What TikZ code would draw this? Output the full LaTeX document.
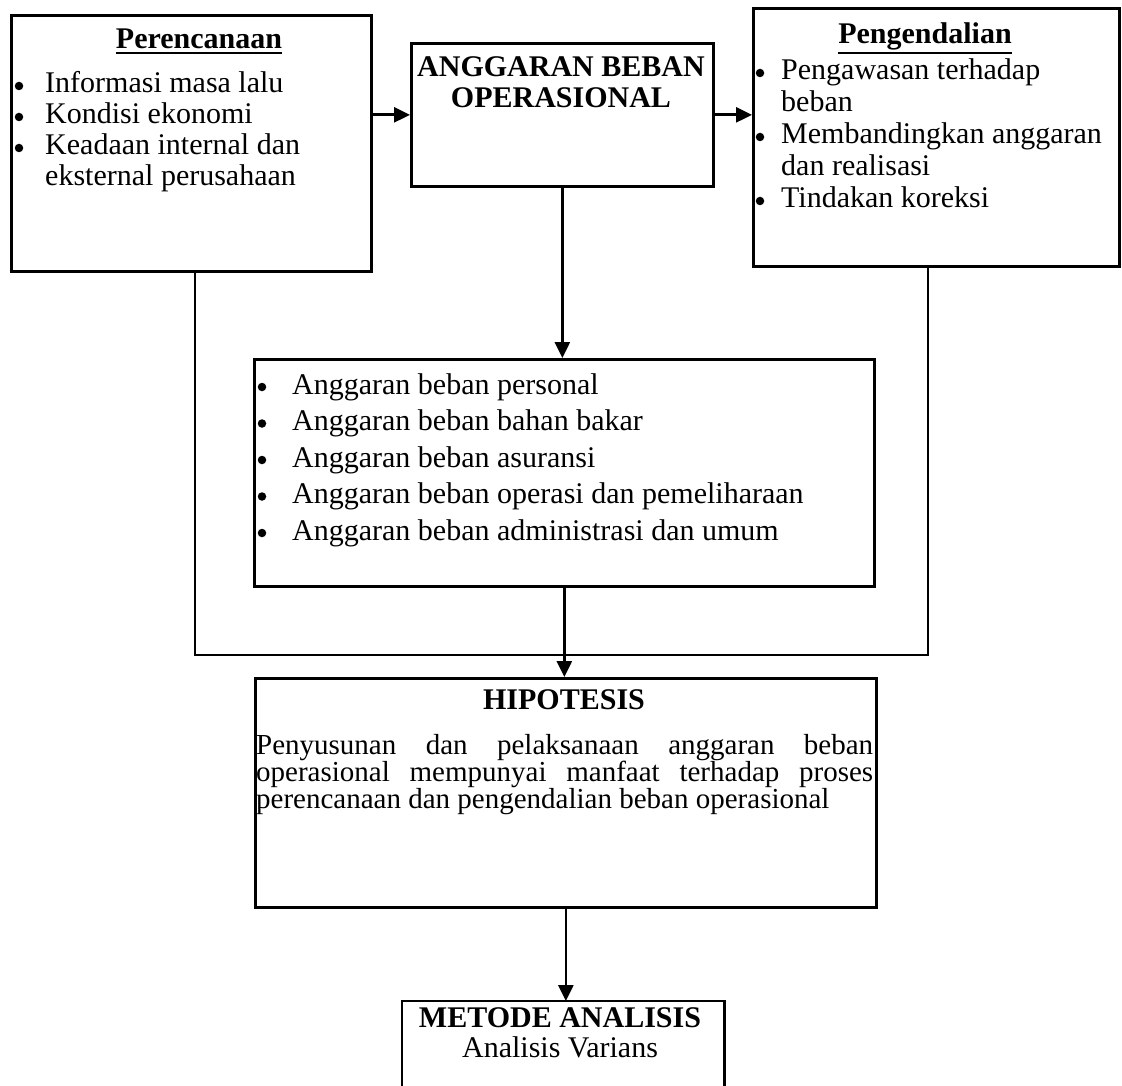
\documentclass[tikz,border=0pt]{standalone}
\usepackage{fontspec}
\setmainfont{Liberation Serif}
\usetikzlibrary{arrows.meta}
\tikzset{
  box/.style={draw, line width=2.7pt, inner sep=0pt, anchor=north west},
  frame/.style={inner sep=0pt, anchor=north west},
  txt/.style={inner sep=0pt, anchor=base west, font=\fontsize{30}{32}\selectfont},
  ctxt/.style={inner sep=0pt, anchor=base, font=\fontsize{30}{32}\selectfont},
  htxt/.style={inner sep=0pt, anchor=base west, font=\fontsize{29}{30}\selectfont},
  ttl/.style={inner sep=0pt, anchor=base, font=\fontsize{30}{32}\selectfont\bfseries},
  dot/.style={circle, fill=black, inner sep=0pt, minimum size=8.5pt},
  conn/.style={line width=2.7pt},
  uline/.style={line width=1.8pt},
  arr/.style={line width=2.7pt, -{Triangle[length=16pt,width=15pt]}},
}
\begin{document}
\begin{tikzpicture}[x=1pt,y=-1pt]
\useasboundingbox (0,0) rectangle (1122,1086);
\fill[white] (0,0) rectangle (1122,1086);

% boxes
\node[box, minimum width=360pt, minimum height=256pt] (plan) at (10,14) {};
\node[box, minimum width=302pt, minimum height=143pt] (ang) at (410,42) {};
\node[box, minimum width=366pt, minimum height=258pt] (peng) at (752,7) {};
\node[box, minimum width=620pt, minimum height=227pt] (list) at (253,358) {};
\node[box, minimum width=621pt, minimum height=229pt] (hip) at (254,677) {};
\node[frame, minimum width=322pt, minimum height=85pt] (met) at (402,1001) {};
\draw[line width=2.7pt] (met.south west) -- (met.north west) -- (met.north east) -- (met.south east);

% Perencanaan
\node[ttl] (p0) at (199,49) {Perencanaan};
\draw[uline] ([yshift=-4pt]p0.base west) -- ([yshift=-4pt]p0.base east);
\node[dot] (pb1) at (19,86) {};
\node[txt] (p1) at (45,93) {Informasi masa lalu};
\node[dot] (pb2) at (19,117) {};
\node[txt] (p2) at (45,124) {Kondisi ekonomi};
\node[dot] (pb3) at (19,148) {};
\node[txt] (p3) at (45,155) {Keadaan internal dan};
\node[txt] (p4) at (45,186) {eksternal perusahaan};

% Anggaran beban operasional
\node[ttl] (a1) at (561,77) {ANGGARAN BEBAN};
\node[ttl] (a2) at (561,108) {OPERASIONAL};

% Pengendalian
\node[ttl] (g0) at (925,44) {Pengendalian};
\draw[uline] ([yshift=-2pt]g0.south west) -- ([yshift=-2pt]g0.south east);
\node[dot] (gb1) at (760,73) {};
\node[txt] (g1) at (781,80) {Pengawasan terhadap};
\node[txt] (g2) at (781,112) {beban};
\node[dot] (gb3) at (760,137) {};
\node[txt] (g3) at (781,144) {Membandingkan anggaran};
\node[txt] (g4) at (781,176) {dan realisasi};
\node[dot] (gb5) at (760,201) {};
\node[txt] (g5) at (781,208) {Tindakan koreksi};

% list of budgets
\node[dot] (lb1) at (262,387) {};
\node[txt] (l1) at (292,394) {Anggaran beban personal};
\node[dot] (lb2) at (262,423.5) {};
\node[txt] (l2) at (292,430.5) {Anggaran beban bahan bakar};
\node[dot] (lb3) at (262,460) {};
\node[txt] (l3) at (292,467) {Anggaran beban asuransi};
\node[dot] (lb4) at (262,496.5) {};
\node[txt] (l4) at (292,503.5) {Anggaran beban operasi dan pemeliharaan};
\node[dot] (lb5) at (262,533) {};
\node[txt] (l5) at (292,540) {Anggaran beban administrasi dan umum};

% Hipotesis
\node[ttl] (h0) at (564,709) {HIPOTESIS};
\node[htxt] (h1) at (256,754) {\makebox[617pt][s]{Penyusunan dan pelaksanaan anggaran beban}};
\node[htxt] (h2) at (256,781) {\makebox[617pt][s]{operasional mempunyai manfaat terhadap proses}};
\node[htxt] (h3) at (256,808) {perencanaan dan pengendalian beban operasional};

% Metode analisis
\node[ttl] (m1) at (560,1027) {METODE ANALISIS};
\node[ctxt] (m2) at (560,1057) {Analisis Varians};

% connectors
\draw[arr] (plan.east |- ang.west) -- (ang.west);
\draw[arr] (ang.east) -- (ang.east -| peng.west);
\draw[arr] (ang.south) -- (ang.south |- list.north);
\draw[arr] (list.south) -- (list.south |- hip.north);
\draw[arr] (hip.south) -- (hip.south |- met.north);
\coordinate (jl) at (195,655);
\coordinate (jr) at (928,655);
\draw[conn] (jl |- plan.south) -- (jl) -- (jr) -- (jr |- peng.south);
\end{tikzpicture}
\end{document}
